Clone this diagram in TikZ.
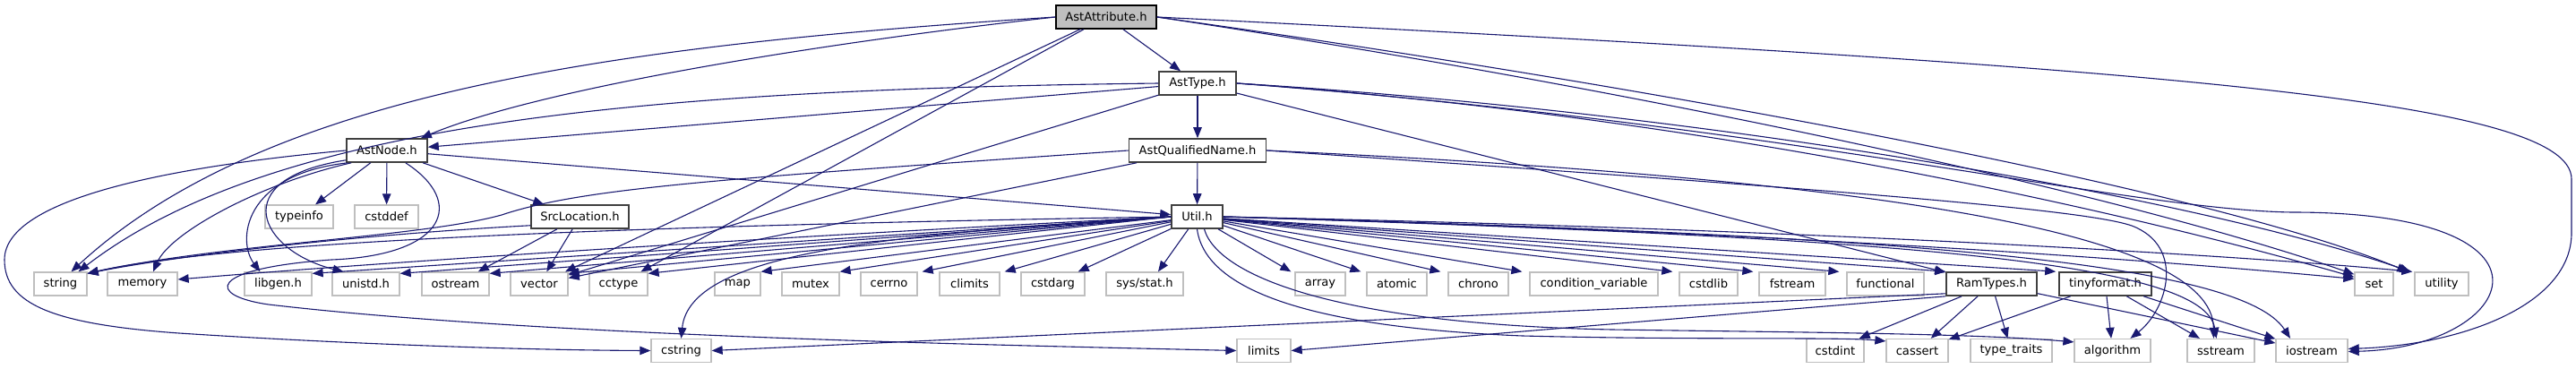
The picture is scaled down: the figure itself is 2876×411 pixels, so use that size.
\documentclass[tikz,border=0pt]{standalone}
\usepackage{fontspec}
\setmainfont{DejaVu Sans}
\usetikzlibrary{arrows.meta}
\definecolor{edgec}{HTML}{191970}
\definecolor{gboxc}{HTML}{BFBFBF}
\definecolor{dboxc}{HTML}{404040}
\definecolor{rootc}{HTML}{BFBFBF}
\tikzset{
  sysbox/.style={draw=gboxc, line width=1.3bp, fill=white, minimum height=26bp, inner sep=0pt,
    font=\fontsize{13.1bp}{15bp}\selectfont, text=black},
  prjbox/.style={sysbox, draw=dboxc, line width=1.6bp},
  rootbox/.style={sysbox, draw=black, line width=1.6bp, fill=rootc},
  dep/.style={draw=edgec, line width=1.1bp, -{Triangle[length=12bp,width=9.5bp]}, fill=none},
}
\begin{document}
\begin{tikzpicture}[x=1bp,y=-1bp]
\useasboundingbox (0,0) rectangle (2876,411);
% rows
\node[rootbox, minimum width=112bp] (A) at (1235,19) {AstAttribute.h};
\node[prjbox, minimum width=86bp] (T) at (1337,93) {AstType.h};
\node[prjbox, minimum width=90bp] (N) at (432,168) {AstNode.h};
\node[prjbox, minimum width=153bp] (Q) at (1337,168) {AstQualifiedName.h};
\node[sysbox, minimum width=76bp] (ti) at (334,242) {typeinfo};
\node[sysbox, minimum width=71bp] (cd) at (431.5,242) {cstddef};
\node[prjbox, minimum width=109bp] (S) at (647.5,242) {SrcLocation.h};
\node[prjbox, minimum width=57bp] (U) at (1336.5,242) {Util.h};
% row 4
\node[sysbox, minimum width=59bp] (str) at (67.5,317) {string};
\node[sysbox, minimum width=78bp] (mem) at (159,317) {memory};
\node[sysbox, minimum width=75bp] (lg) at (310.5,317) {libgen.h};
\node[sysbox, minimum width=75bp] (un) at (408.5,317) {unistd.h};
\node[sysbox, minimum width=75bp] (os) at (508.5,317) {ostream};
\node[sysbox, minimum width=64bp] (vec) at (602,317) {vector};
\node[sysbox, minimum width=65bp] (cct) at (690.5,317) {cctype};
\node[sysbox, minimum width=51bp] (map) at (823.5,317) {map};
\node[sysbox, minimum width=64bp] (mtx) at (905,317) {mutex};
\node[sysbox, minimum width=63bp] (cer) at (992.5,317) {cerrno};
\node[sysbox, minimum width=67bp] (cli) at (1082.5,317) {climits};
\node[sysbox, minimum width=71bp] (csa) at (1175.5,317) {cstdarg};
\node[sysbox, minimum width=86bp] (sys) at (1278,317) {sys/stat.h};
\node[sysbox, minimum width=56bp] (arr) at (1474,317) {array};
\node[sysbox, minimum width=67bp] (atm) at (1559.5,317) {atomic};
\node[sysbox, minimum width=67bp] (chr) at (1650.5,317) {chrono};
\node[sysbox, minimum width=143bp] (cv) at (1779.5,317) {condition\_variable};
\node[sysbox, minimum width=65bp] (csl) at (1907.5,317) {cstdlib};
\node[sysbox, minimum width=74bp] (fst) at (2001,317) {fstream};
\node[sysbox, minimum width=86bp] (fun) at (2105,317) {functional};
\node[prjbox, minimum width=101bp] (R) at (2223.5,317) {RamTypes.h};
\node[prjbox, minimum width=103bp] (F) at (2350.5,317) {tinyformat.h};
\node[sysbox, minimum width=43bp] (set) at (2650.5,317) {set};
\node[sysbox, minimum width=60bp] (utl) at (2726,317) {utility};
% row 5
\node[sysbox, minimum width=67bp] (cstr) at (760.5,391.5) {cstring};
\node[sysbox, minimum width=60bp] (lim) at (1411,391.5) {limits};
\node[sysbox, minimum width=64bp] (cint) at (2049,391.5) {cstdint};
\node[sysbox, minimum width=69bp] (cas) at (2140.5,391.5) {cassert};
\node[sysbox, minimum width=91bp] (tt) at (2245.5,391.5) {type\_traits};
\node[sysbox, minimum width=85bp] (alg) at (2358.5,391.5) {algorithm};
\node[sysbox, minimum width=75bp] (sst) at (2479.5,391.5) {sstream};
\node[sysbox, minimum width=80bp] (ios) at (2581,391.5) {iostream};

% ---- AstAttribute.h
\draw[dep] (A) -- (T);
\draw[dep] (A.west) .. controls (900,50) and (600,100) .. ([xshift=-8bp]N.north east);
\draw[dep] (A.west) .. controls (700,50) and (300,100) .. ([xshift=12bp]str.north);
\draw[dep] (A) -- (vec);
\draw[dep] (A) -- (cct);
\draw[dep] (A.east) .. controls (1800,95) and (2350,210) .. ([yshift=-3bp]set.north west);
\draw[dep] (A.east) .. controls (1800,90) and (2450,205) .. ([xshift=-7bp]utl.north west);
\draw[dep] (A.east) .. controls (2400,75) and (2871,110) .. (2871,200) -- (2871,260)
   .. controls (2871,340) and (2750,385) .. ([yshift=2bp]ios.east);

% ---- AstType.h
\draw[dep] (T) -- (Q);
\draw[dep] (T) -- (N);
\draw[dep] (T.west) .. controls (700,100) and (300,140) .. ([xshift=20bp]str.north);
\draw[dep] (T) -- (vec);
\draw[dep] (T) -- (R);
\draw[dep] (T.east) .. controls (1900,130) and (2350,230) .. ([yshift=-6bp]set.north west);
\draw[dep] (T.east) .. controls (1900,125) and (2450,220) .. ([xshift=-4bp]utl.north west);
\draw[dep] (T.east) .. controls (2000,140) and (2380,235) .. (2560,237)
   .. controls (2880,237) and (2810,388) .. ([yshift=-1bp]ios.east);

% ---- AstQualifiedName.h
\draw[dep] (Q) -- (U);
\draw[dep] (Q.west) .. controls (800,200) and (650,210) .. (560,240)
   .. controls (470,265) and (250,272) .. ([yshift=-2bp]str.north east);
\draw[dep] (Q) -- (vec);
\draw[dep] (Q.east) .. controls (2100,200) and (2470,260) .. ([xshift=-8bp]sst.north);
\draw[dep] (Q.east) .. controls (2100,215) and (2330,235) .. (2380,252)
   .. controls (2440,275) and (2420,345) .. ([xshift=20bp]alg.north);

% ---- AstNode.h
\draw[dep] (N) -- (ti);
\draw[dep] (N) -- (cd);
\draw[dep] (N) -- (S);
\draw[dep] (N) -- (U);
\draw[dep] ([xshift=6bp]N.south west) .. controls (290,205) and (190,260) .. ([xshift=12bp]mem.north);
\draw[dep] ([xshift=2bp]N.south west) .. controls (270,195) and (265,270) .. ([xshift=-20bp]lg.north);
\draw[dep] ([yshift=3bp]N.south west) .. controls (250,200) and (290,280) .. ([xshift=-25bp]un.north);
\draw[dep] (N.west) .. controls (200,185) and (5,220) .. (5,290)
   .. controls (5,340) and (60,362) .. (200,372)
   .. controls (400,385) and (600,391) .. (cstr.west);
\draw[dep] ([xshift=-25bp]N.south east) .. controls (520,225) and (500,285) .. (370,290)
   .. controls (230,300) and (230,330) .. (300,340)
   .. controls (600,375) and (1100,385) .. (lim.west);

% ---- SrcLocation.h
\draw[dep] (S.190) .. controls (400,262) and (200,285) .. ([yshift=-2bp]str.north east);
\draw[dep] (S) -- (os);
\draw[dep] (S) -- (vec);

% ---- Util.h, left side
\draw[dep] (U.west) .. controls (700,252) and (250,270) .. ([yshift=-2bp]str.north east);
\draw[dep] (U.west) .. controls (800,268) and (400,295) .. ([yshift=5bp]mem.east);
\draw[dep] (U.west) -- ([yshift=-2bp]lg.north east);
\draw[dep] (U.west) -- ([yshift=-2bp]un.north east);
\draw[dep] (U.west) -- ([yshift=-2bp]os.north east);
\draw[dep] (U.west) -- ([yshift=-2bp]vec.north east);
\draw[dep] (U.west) -- ([yshift=-2bp]cct.north east);
\draw[dep] (U.west) .. controls (1000,262) and (770,280) .. (cstr.north);
\draw[dep] (U) -- (map.north east);
\draw[dep] (U) -- (mtx.north east);
\draw[dep] (U) -- ([xshift=5bp]cer.north east);
\draw[dep] (U) -- ([xshift=5bp]cli.north east);
\draw[dep] (U) -- ([xshift=-8bp]csa.north east);
\draw[dep] (U) -- ([xshift=15bp]sys.north);
% ---- Util.h, right side
\draw[dep] (U) -- ([xshift=-4bp]arr.north west);
\draw[dep] (U) -- ([xshift=-6bp]atm.north west);
\draw[dep] (U) -- ([xshift=-8bp]chr.north west);
\draw[dep] (U) -- ([xshift=-8bp]cv.north west);
\draw[dep] (U) -- ([xshift=-7bp]csl.north west);
\draw[dep] (U) -- ([xshift=-6bp]fst.north west);
\draw[dep] (U) -- ([xshift=-8bp]fun.north west);
\draw[dep] (U) -- (R.north west);
\draw[dep] (U) -- ([xshift=-3bp]F.north west);
\draw[dep] (U.east) .. controls (2000,260) and (2400,290) .. ([yshift=-8bp]set.north west);
\draw[dep] (U.east) .. controls (2000,255) and (2500,285) .. ([xshift=-2bp]utl.north west);
\draw[dep] (U.south) .. controls (1345,320) and (1450,365) .. (1700,375)
   .. controls (1900,380) and (2050,376) .. ([yshift=-3bp]cas.north west);
\draw[dep] ([xshift=8bp]U.south) .. controls (1360,310) and (1500,362) .. (1800,368)
   .. controls (2000,371) and (2200,372) .. ([yshift=-4bp]alg.north west);
\draw[dep] (U.east) .. controls (2100,265) and (2460,290) .. ([xshift=-5bp]sst.north);
\draw[dep] (U.east) .. controls (2100,262) and (2500,290) .. ([xshift=-24bp]ios.north);

% ---- RamTypes.h
\draw[dep] ([yshift=3bp]R.south west) -- (cstr.east);
\draw[dep] (R.south west) -- (lim.east);
\draw[dep] ([xshift=18bp]R.south west) -- ([xshift=-6bp]cint.north east);
\draw[dep] (R) -- (cas);
\draw[dep] (R) -- (tt);
\draw[dep] (R) -- (ios);

% ---- tinyformat.h
\draw[dep] (F) -- (cas);
\draw[dep] (F) -- (alg);
\draw[dep] (F) -- (sst);
\draw[dep] (F) -- (ios);
\end{tikzpicture}
\end{document}
